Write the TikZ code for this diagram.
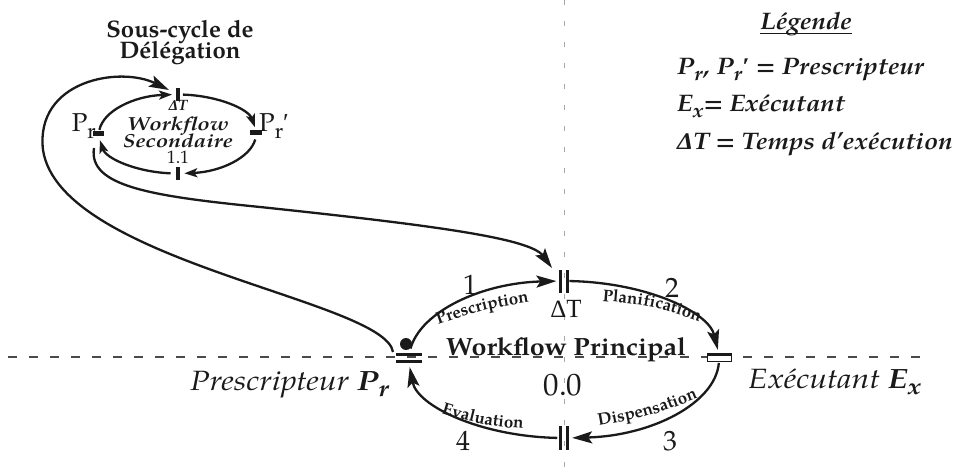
\documentclass[tikz,border=0pt]{standalone}
\usepackage{fontspec}
\usepackage{graphicx}
\setmainfont{TeX Gyre Pagella}
\newfontfamily\grk{Liberation Serif}
\usetikzlibrary{arrows.meta,decorations.text}
\definecolor{ink}{HTML}{1A1A1A}
\definecolor{dashgray}{HTML}{4A4A4A}
\definecolor{dotgray}{HTML}{A8A8A8}
\newcommand{\fs}[1]{\fontsize{#1}{#1}\selectfont}
\newcommand{\mysub}[1]{\raisebox{-0.25em}{\scalebox{0.82}{#1}}}
\newcommand{\hstretch}[2]{\scalebox{#1}[1]{#2}}
\newcommand{\lblfont}{\bfseries\fontsize{17}{17}\selectfont}
\begin{document}
\begin{tikzpicture}[x=1bp,y=-1bp,
  flow/.style={draw=ink, line width=2.3bp},
  bigarr/.style={-{Stealth[length=20bp,width=12bp,inset=4bp]}},
  smallarr/.style={-{Stealth[length=13bp,width=9bp,inset=3bp]}},
  txt/.style={inner sep=0pt, text=ink},
  pathlabel/.style={decorate, decoration={text along path, text align=center, text color=ink}},
]
\useasboundingbox[fill=white] (0,0) rectangle (956,467);

% guide lines
\coordinate (vtop) at (564,0);
\coordinate (vbot) at (564,467);
\draw[dotgray, line width=0.9bp, dash pattern=on 5bp off 16bp] (vtop) -- (vbot);
\coordinate (hl) at (8,357);
\coordinate (hr) at (921,357);
\draw[dashgray, line width=1.5bp, dash pattern=on 9bp off 12bp] (hl) -- (hr);

% centres
\coordinate (M) at (564,359.5);
\coordinate (S) at (177.5,134);

% main cycle
\draw[flow,bigarr] ([shift={(188:155 and 78.5)}]M) arc[start angle=188,end angle=267.2,x radius=155,y radius=78.5];
\draw[flow,bigarr] ([shift={(272:155 and 78.5)}]M) arc[start angle=272,end angle=353,x radius=155,y radius=78.5];
\draw[flow,bigarr] ([shift={(2.5:155 and 78.5)}]M) arc[start angle=2.5,end angle=87,x radius=155,y radius=78.5];
\draw[flow,bigarr] ([shift={(92.5:155 and 78.5)}]M) arc[start angle=92.5,end angle=174.5,x radius=155,y radius=78.5];

% main markers
\fill[ink] (559,270) rectangle (562,293);
\fill[ink] (565.5,270) rectangle (568.5,293);
\fill[ink] (559,426) rectangle (562,450);
\fill[ink] (565.5,426) rectangle (568.5,450);
\fill[ink] (406,344) circle[radius=6];
\fill[ink] (396,353.5) rectangle (422,356.5);
\fill[ink] (396,360) rectangle (422,363);
\draw[ink, line width=1bp, fill=white] (707.5,353.5) rectangle (731.5,362);
\fill[ink] (707,353) rectangle (732,356.5);

% sub cycle
\draw[flow,smallarr] ([shift={(186:78.5 and 39.5)}]S) arc[start angle=186,end angle=266,x radius=78.5,y radius=39.5];
\draw[flow,smallarr] ([shift={(274:78.5 and 39.5)}]S) arc[start angle=274,end angle=350,x radius=78.5,y radius=39.5];
\draw[flow,smallarr] ([shift={(8:78.5 and 39.5)}]S) arc[start angle=8,end angle=85,x radius=78.5,y radius=39.5];
\draw[flow,smallarr] ([shift={(95:78.5 and 39.5)}]S) arc[start angle=95,end angle=171,x radius=78.5,y radius=39.5];
\fill[ink] (175.5,88) rectangle (180,101);
\fill[ink] (175.5,167) rectangle (180,180);
\fill[ink] (92.5,131.5) rectangle (104,136.5);
\fill[ink] (250,130.5) rectangle (261.5,135.5);

% connectors between the cycles
\coordinate (c1a) at (393,352);
\coordinate (c1b) at (169,90);
\draw[flow,bigarr] (c1a) .. controls (385,300) and (60,262) .. (43,150) .. controls (35,80) and (120,66) .. (c1b);
\coordinate (c2a) at (94,148);
\coordinate (c2b) at (552,268);
\draw[flow,bigarr] (c2a) .. controls (88,186) and (150,196) .. (260,207) .. controls (430,225) and (530,238) .. (c2b);

% title
\node[txt, font=\bfseries\fs{24}, anchor=base] (titleA) at (180,38) {Sous-cycle de};
\node[txt, font=\bfseries\fs{24}, anchor=base] (titleB) at (180,59) {D\'el\'egation};

% sub cycle texts
\node[txt, font=\fs{26}, anchor=base east] (spr) at (96,132) {P\mysub{r}};
\node[txt, font=\fs{26}, anchor=base west] (sprb) at (259,132) {P\mysub{r}{\grk ′}};
\node[txt, font=\bfseries\itshape\fs{15}, anchor=base] (sdt) at (178,111) {{\grk Δ}T};
\node[txt, font=\bfseries\itshape\fs{19}, anchor=base] (swf) at (178,131) {\hstretch{1.2}{Workflow}};
\node[txt, font=\bfseries\itshape\fs{19}, anchor=base] (ssec) at (178,147.5) {\hstretch{1.2}{Secondaire}};
\node[txt, font=\fs{18}, anchor=base] (sone) at (178,163.5) {1.1};

% legend
\node[txt, font=\bfseries\itshape\fs{24}, anchor=base] (leg) at (806,30) {\hstretch{1.08}{L\'egende}};
\draw[ink, line width=1.4bp] ([yshift=-3.5bp]leg.base west) -- ([yshift=-3.5bp]leg.base east);
\node[txt, font=\bfseries\itshape\fs{24}, anchor=base west] (l1) at (677,75) {\hstretch{1.08}{P\mysub{r}\kern1bp, P\mysub{r}{\grk ′} = Prescripteur}};
\node[txt, font=\bfseries\itshape\fs{24}, anchor=base west] (l2) at (677,112) {\hstretch{1.08}{E\mysub{x}= Ex\'ecutant}};
\node[txt, font=\bfseries\itshape\fs{24}, anchor=base west] (l3) at (677,150) {\hstretch{1.08}{{\grk Δ}T = Temps d’ex\'ecution}};

% main texts
\node[txt, font=\bfseries\fs{25}, anchor=base] (wp) at (566,356) {\hstretch{1.08}{Workflow Principal}};
\node[txt, font=\fs{25}, anchor=base] (dt) at (566,318) {{\grk Δ}T};
\node[txt, font=\fs{31}, anchor=base] (zz) at (563,395) {0.0};
\node[txt, font=\fs{28}, anchor=base] (n1) at (470,295) {1};
\node[txt, font=\fs{28}, anchor=base] (n2) at (672,298) {2};
\node[txt, font=\fs{28}, anchor=base] (n3) at (670,450) {3};
\node[txt, font=\fs{28}, anchor=base] (n4) at (463,450) {4};
\node[txt, font=\itshape\fs{28}, anchor=base east] (lp) at (389,390) {\hstretch{1.15}{Prescripteur \textbf{P\mysub{r}}}};
\node[txt, font=\itshape\fs{28}, anchor=base west] (le) at (748,388) {\hstretch{1.15}{Ex\'ecutant \textbf{E\mysub{x}}}};

% labels along the arcs
\path[pathlabel, decoration={text={|\lblfont|Prescription}}] (422,330.5) .. controls (482.5,309) .. (546,299.5);
\path[pathlabel, decoration={text={|\lblfont|Planification}}] (588,300) .. controls (652,305) .. (713,326);
\path[pathlabel, decoration={text={|\lblfont|Evaluation}}] (428,409) .. controls (481.5,425.5) .. (537,430);
\path[pathlabel, decoration={text={|\lblfont|Dispensation}}] (586,428) .. controls (650,417) .. (710,393);
\end{tikzpicture}
\end{document}
